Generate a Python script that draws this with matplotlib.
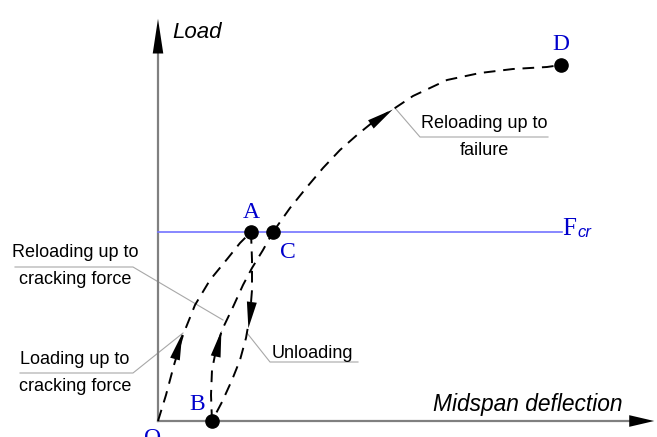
import matplotlib.pyplot as plt
from matplotlib.patches import FancyArrowPatch

# Schematic load-deflection diagram (units: arbitrary, origin at O)
loading_x = [0, 8, 16, 25, 37, 52, 70, 82, 93]
loading_y = [0, 26, 56, 86, 116, 141, 163, 178, 189]

unloading_x = [93, 94, 94, 92, 88, 82, 74, 64, 54]
unloading_y = [189, 161, 131, 106, 83, 61, 41, 19, 0]

reload_cr_x = [54, 53, 54, 58, 64, 75, 85, 94, 105, 115]
reload_cr_y = [0, 26, 51, 71, 91, 114, 136, 153, 171, 189]

reload_fail_x = [115, 132, 149, 165, 182, 199, 215, 237, 255, 289, 322, 355, 389, 403]
reload_fail_y = [189, 213, 234, 253, 271, 286, 299, 313, 325, 341, 348, 352, 354, 356]

F_cr = 189
F_cr_end = 404

# key points A, B, C, D
pt_names = ['A', 'B', 'C', 'D']
pt_x = [93, 54, 115, 403]
pt_y = [189, 0, 189, 356]

# arrow heads on curves: (tail, tip)
arrows = [
    ((17, 62), (25, 90)),
    ((94, 120), (90, 90)),
    ((58, 66), (64, 93)),
    ((212, 296), (237, 313)),
]

x_max = 499
y_max = 405

blue = '#0000cc'
grey = '#808080'
leader = '#a8a8a8'

fig = plt.figure(figsize=(6.57, 4.37), dpi=100)
ax = fig.add_axes([0, 0, 1, 1])
ax.set_xlim(-158, 499)
ax.set_ylim(-16, 421)
ax.axis('off')

# axes with arrow heads
ax.plot([0, x_max - 20], [0, 0], color=grey, lw=1.6, zorder=1)
ax.plot([0, 0], [0, y_max - 30], color=grey, lw=1.6, zorder=1)
ax.add_patch(FancyArrowPatch((x_max - 26, 0), (x_max, 0), arrowstyle='-|>,head_length=1.8,head_width=0.42',
                             mutation_scale=10, color='k', lw=0, zorder=3))
ax.add_patch(FancyArrowPatch((0, y_max - 36), (0, y_max), arrowstyle='-|>,head_length=2.5,head_width=0.38',
                             mutation_scale=10, color='k', lw=0, zorder=3))

# cracking force line
ax.plot([0, F_cr_end], [F_cr, F_cr], color='#7373ff', lw=1.2, zorder=1)

dash = dict(color='k', lw=1.4, ls=(0, (6, 4)), zorder=2)
ax.plot(loading_x, loading_y, **dash)
ax.plot(unloading_x, unloading_y, **dash)
ax.plot(reload_cr_x, reload_cr_y, **dash)
ax.plot(reload_fail_x, reload_fail_y, **dash)

for tail, tip in arrows:
    ax.add_patch(FancyArrowPatch(tail, tip, arrowstyle='-|>,head_length=1.9,head_width=0.36',
                                 mutation_scale=10, color='k', lw=0, zorder=3))

ax.plot(pt_x, pt_y, 'o', color='k', ms=9.5, zorder=4)

# point labels
serif = 'Liberation Serif'
ax.text(93, 209, 'A', color=blue, fontsize=17, family=serif, ha='center', va='center')
ax.text(39, 16, 'B', color=blue, fontsize=17, family=serif, ha='center', va='center')
ax.text(130, 169, 'C', color=blue, fontsize=17, family=serif, ha='center', va='center')
ax.text(403, 376, 'D', color=blue, fontsize=17, family=serif, ha='center', va='center')
ax.text(-5, -18, 'O', color=blue, fontsize=17, family=serif, ha='center', va='center')
ax.text(404, F_cr - 3, 'F', color=blue, fontsize=18, family=serif, ha='left', va='baseline')
ax.text(419, F_cr - 5, 'cr', color=blue, fontsize=12, family='Liberation Sans', style='italic',
        ha='left', va='baseline')

# axis titles
sans = 'Liberation Sans'
ax.text(14, 388, 'Load', fontsize=16, family=sans, style='italic', ha='left', va='center')
ax.text(275, 16, 'Midspan deflection', fontsize=16.4, family=sans, style='italic', ha='left', va='center')

# leader lines and annotations
ax.plot([-143, -25, 65], [154, 154, 101], color=leader, lw=0.8, zorder=0)
ax.plot([-138, -25, 25], [48, 48, 88], color=leader, lw=0.8, zorder=0)
ax.plot([89, 112, 200], [88, 59, 59], color=leader, lw=0.8, zorder=0)
ax.plot([237, 262, 390], [313, 284, 284], color=leader, lw=0.8, zorder=0)

ax.text(-83, 155, 'Reloading up to\ncracking force', fontsize=13, family=sans, ha='center', va='center',
        linespacing=1.75)
ax.text(-83, 48, 'Loading up to\ncracking force', fontsize=13, family=sans, ha='center', va='center',
        linespacing=1.75)
ax.text(114, 67, 'Unloading', fontsize=13, family=sans, ha='left', va='center')
ax.text(326, 284, 'Reloading up to\nfailure', fontsize=13, family=sans, ha='center', va='center',
        linespacing=1.75)

plt.savefig('out.png', dpi=100)
